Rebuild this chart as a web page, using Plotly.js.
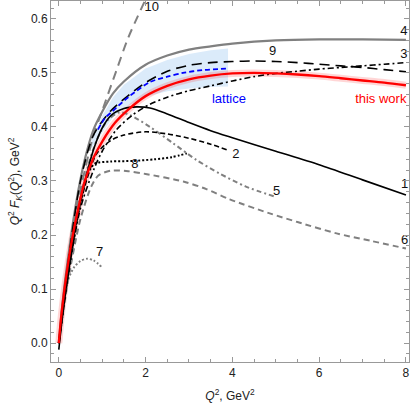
<!DOCTYPE html>
<html>
<head>
<meta charset="utf-8">
<script src="https://cdn.plot.ly/plotly-3.0.1.min.js"></script>
<style>
  html, body { margin: 0; padding: 0; background: #fff; }
  #chart { width: 415px; height: 415px; }
</style>
</head>
<body>
<div id="chart"></div>
<script>
// curve values (Q^2 in GeV^2, Q^2 F_K in GeV^2)
const qRed = [0, 0.05, 0.1, 0.2, 0.3, 0.45, 0.6, 0.8, 1.0, 1.3, 1.6, 2.0, 2.5, 3.0, 3.5, 4.0, 4.5, 5.0, 5.5, 6.0, 6.5, 7.0, 7.5, 8.0]
const vRed = [0, 0.045, 0.08, 0.14, 0.19, 0.25, 0.3, 0.343, 0.373, 0.408, 0.432, 0.457, 0.476, 0.488, 0.495, 0.499, 0.5, 0.499, 0.497, 0.494, 0.49, 0.486, 0.482, 0.477]

const qLat = [0.9, 1.06, 1.25, 1.6, 2.1, 2.5, 2.86, 3.3, 3.9]
const vLat = [0.395, 0.416, 0.43, 0.455, 0.483, 0.493, 0.5, 0.505, 0.508]
const qLatBand = [0.75, 1.0, 1.25, 1.5, 2.0, 2.5, 3.0, 3.5, 3.9]
const latUpper = [0.375, 0.42, 0.455, 0.478, 0.508, 0.524, 0.535, 0.542, 0.545]
const latLower = [0.36, 0.39, 0.418, 0.435, 0.456, 0.466, 0.471, 0.474, 0.475]

const q1 = [0, 0.1, 0.2, 0.4, 0.6, 0.8, 1.0, 1.2, 1.5, 1.8, 2.1, 2.5, 3.0, 3.5, 4.0, 5.0, 6.0, 7.0, 8.0]
const v1 = [-0.012, 0.06, 0.12, 0.222, 0.298, 0.358, 0.398, 0.421, 0.434, 0.437, 0.435, 0.424, 0.408, 0.393, 0.38, 0.355, 0.33, 0.302, 0.274]

const q2 = [0, 0.2, 0.5, 0.87, 1.2, 1.5, 2.0, 2.5, 3.0, 3.5, 3.9]
const v2 = [0, 0.12, 0.26, 0.35, 0.375, 0.385, 0.391, 0.387, 0.379, 0.368, 0.357]

const q3 = [0, 0.2, 0.5, 0.8, 1.0, 1.33, 1.7, 2.1, 2.5, 3.0, 3.5, 4.0, 4.5, 5.0, 5.5, 6.0, 6.5, 7.0, 7.5, 8.0]
const v3 = [0, 0.12, 0.25, 0.32, 0.355, 0.395, 0.422, 0.442, 0.455, 0.467, 0.476, 0.485, 0.493, 0.499, 0.503, 0.507, 0.51, 0.513, 0.516, 0.519]

const q4 = [0, 0.1, 0.2, 0.4, 0.6, 0.8, 1.0, 1.25, 1.5, 2.0, 2.5, 3.0, 3.5, 4.0, 5.0, 6.0, 7.0, 8.0]
const v4 = [0, 0.085, 0.15, 0.26, 0.34, 0.395, 0.428, 0.462, 0.484, 0.515, 0.532, 0.543, 0.549, 0.554, 0.56, 0.562, 0.562, 0.561]

const q5 = [0, 0.2, 0.5, 0.8, 1.1, 1.4, 1.64, 2.1, 2.63, 3.17, 3.7, 4.3, 4.98]
const v5 = [0, 0.12, 0.27, 0.36, 0.41, 0.427, 0.422, 0.4, 0.37, 0.339, 0.314, 0.29, 0.271]

const q6 = [0, 0.2, 0.5, 0.75, 0.91, 1.2, 1.6, 2.0, 2.87, 3.4, 3.94, 4.86, 5.5, 6.4, 7.2, 8.0]
const v6 = [0, 0.11, 0.23, 0.29, 0.31, 0.319, 0.318, 0.313, 0.299, 0.285, 0.266, 0.24, 0.224, 0.203, 0.189, 0.175]

const q7 = [0.12, 0.2, 0.35, 0.5, 0.65, 0.8, 1.0]
const v7 = [0.09, 0.115, 0.14, 0.152, 0.156, 0.153, 0.14]

const q8 = [0, 0.2, 0.5, 0.68, 0.83, 1.2, 1.7, 2.2, 2.6, 2.95]
const v8 = [0, 0.12, 0.26, 0.315, 0.332, 0.336, 0.337, 0.34, 0.344, 0.351]

const q9 = [0, 0.2, 0.5, 0.8, 1.2, 1.6, 2.0, 2.5, 3.0, 3.5, 4.0, 4.5, 5.0, 5.5, 6.0, 6.5, 7.0, 7.5, 8.0]
const v9 = [0, 0.14, 0.3, 0.385, 0.43, 0.458, 0.482, 0.503, 0.514, 0.519, 0.521, 0.522, 0.521, 0.519, 0.516, 0.513, 0.51, 0.506, 0.502]

const q10 = [0, 0.1, 0.2, 0.4, 0.6, 0.8, 1.0, 1.33, 1.6, 2.0]
const v10 = [0, 0.08, 0.14, 0.245, 0.32, 0.385, 0.43, 0.505, 0.565, 0.636]

// curve labels and where they sit
const labelText = ['10', '9', '4', '3', '1', '2', '8', '5', '6', '7', 'lattice', 'this work']
const labelX = [2.14, 4.93, 7.95, 7.95, 7.97, 4.08, 1.75, 5.02, 7.97, 0.94, 3.92, 7.42]
const labelY = [0.62, 0.539, 0.576, 0.533, 0.293, 0.348, 0.33, 0.28, 0.189, 0.168, 0.45, 0.45]
const labelColor = ['#111', '#111', '#111', '#111', '#111', '#111', '#111', '#111', '#111', '#111', 'blue', 'red']

const GRAY = 'rgb(128,128,128)'
const FONT = 'Liberation Sans'

function curve (x, y, color, dash, width) {
  return {
    x: x, y: y, type: 'scatter', mode: 'lines', hoverinfo: 'skip',
    line: { color: color, dash: dash, width: width || 1.8, shape: 'spline', smoothing: 0.8 }
  }
}

const data = [
  // lattice band
  { x: qLatBand, y: latLower, type: 'scatter', mode: 'lines', line: { width: 0 }, hoverinfo: 'skip' },
  { x: qLatBand, y: latUpper, type: 'scatter', mode: 'lines', line: { width: 0 }, fill: 'tonexty',
    fillcolor: 'rgba(175,210,245,0.45)', hoverinfo: 'skip' },
  // pink band behind red line
  curve(qRed, vRed, 'rgba(255,0,0,0.16)', 'solid', 7),
  curve(q10, v10, GRAY, '9px,6px', 2),
  curve(q4, v4, GRAY, 'solid', 2.2),
  curve(q5, v5, GRAY, '5px,3px,2px,3px', 2),
  curve(q6, v6, GRAY, '6px,4px', 2),
  curve(q7, v7, GRAY, '2px,2px', 2),
  curve(q1, v1, 'black', 'solid', 1.6),
  curve(q2, v2, 'black', '5px,3px', 1.6),
  curve(q3, v3, 'black', '6px,3px,2px,3px', 1.6),
  curve(q8, v8, 'black', '2px,2px', 2),
  curve(q9, v9, 'black', '10px,6px', 1.6),
  curve(qLat, vLat, 'blue', '5px,3px', 1.8),
  curve(qRed, vRed, 'red', 'solid', 2.4),
  {
    x: labelX, y: labelY, text: labelText, type: 'scatter', mode: 'text', hoverinfo: 'skip',
    textposition: 'middle center',
    textfont: { family: FONT, size: 13, color: labelColor },
    cliponaxis: false
  }
]

const axisCommon = {
  showgrid: false, zeroline: false, showline: true, linecolor: '#999', linewidth: 1,
  mirror: 'ticks', ticks: 'inside', ticklen: 5, tickcolor: '#999',
  tickfont: { family: FONT, size: 12, color: '#222' }
}

const layout = {
  width: 415,
  height: 415,
  margin: { l: 51, r: 6, t: 1, b: 53 },
  showlegend: false,
  plot_bgcolor: '#fff',
  paper_bgcolor: '#fff',
  font: { family: FONT, size: 12, color: '#222' },
  xaxis: Object.assign({}, axisCommon, {
    range: [-0.18, 8.07], tickvals: [0, 2, 4, 6, 8],
    minor: { dtick: 0.5, tick0: 0, ticks: 'inside', ticklen: 3, tickcolor: '#999' },
    title: { text: '<i>Q</i><sup>2</sup>, GeV<sup>2</sup>', standoff: 12, font: { size: 12 } }
  }),
  yaxis: Object.assign({}, axisCommon, {
    range: [-0.035, 0.633], tickvals: [0, 0.1, 0.2, 0.3, 0.4, 0.5, 0.6], tickformat: '.1f',
    minor: { dtick: 0.02, tick0: 0, ticks: 'inside', ticklen: 3, tickcolor: '#999' },
    title: { text: '<i>Q</i><sup>2</sup> <i>F</i><sub><i>K</i></sub>(<i>Q</i><sup>2</sup>), GeV<sup>2</sup>', standoff: 8, font: { size: 12 } }
  })
}

Plotly.newPlot('chart', data, layout, { displayModeBar: false })
</script>
</body>
</html>
